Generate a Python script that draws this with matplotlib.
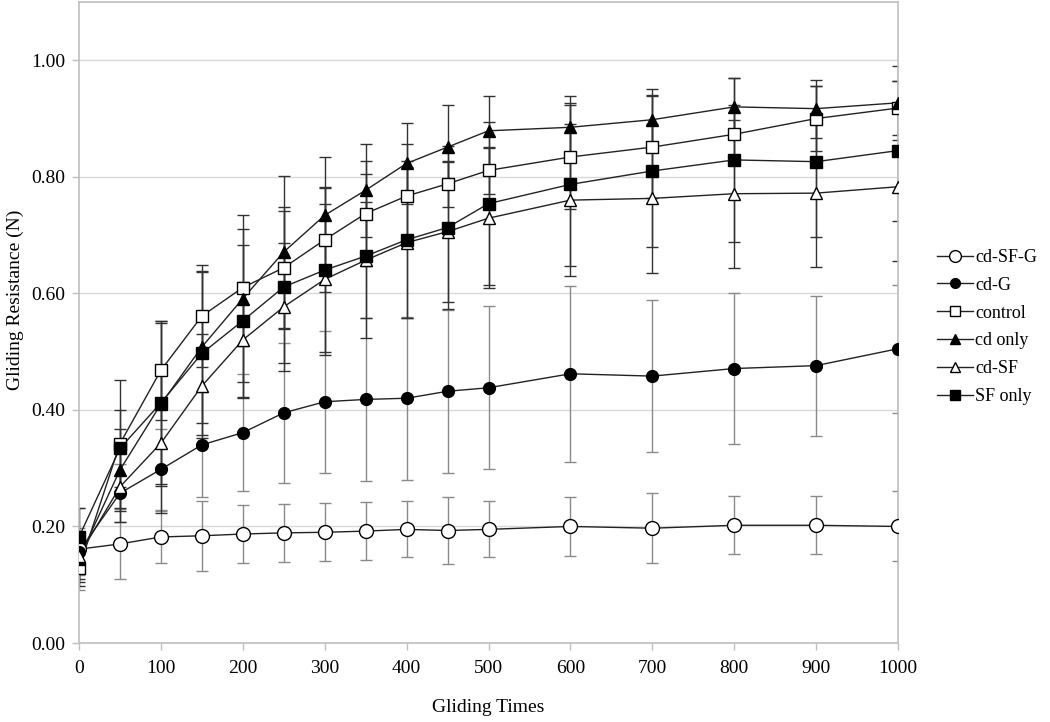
import matplotlib
matplotlib.use("Agg")
import matplotlib.pyplot as plt
from matplotlib.lines import Line2D

plt.rcParams['font.family'] = ['Liberation Serif', 'DejaVu Serif']

times = [0, 50, 100, 150, 200, 250, 300, 350, 400, 450, 500, 600, 700, 800, 900, 1000]

cd_sf_g = [0.161, 0.170, 0.182, 0.184, 0.187, 0.189, 0.190, 0.192, 0.195, 0.193, 0.195, 0.200, 0.197, 0.202, 0.202, 0.200]
cd_sf_g_err = [0.070, 0.060, 0.045, 0.060, 0.050, 0.050, 0.050, 0.050, 0.048, 0.058, 0.048, 0.050, 0.060, 0.050, 0.050, 0.060]

cd_g = [0.157, 0.257, 0.298, 0.340, 0.361, 0.395, 0.414, 0.418, 0.420, 0.432, 0.438, 0.462, 0.458, 0.471, 0.476, 0.505]
cd_g_err = [0.040, 0.050, 0.070, 0.090, 0.100, 0.120, 0.122, 0.140, 0.140, 0.140, 0.140, 0.151, 0.130, 0.130, 0.120, 0.110]

control = [0.128, 0.342, 0.468, 0.561, 0.610, 0.644, 0.692, 0.737, 0.767, 0.788, 0.811, 0.834, 0.851, 0.873, 0.900, 0.918]
control_err = [0.030, 0.110, 0.085, 0.087, 0.100, 0.105, 0.090, 0.090, 0.090, 0.040, 0.040, 0.090, 0.088, 0.050, 0.055, 0.046]

cd_only = [0.145, 0.297, 0.410, 0.508, 0.591, 0.671, 0.734, 0.777, 0.823, 0.851, 0.879, 0.885, 0.898, 0.920, 0.917, 0.927]
cd_only_err = [0.040, 0.070, 0.140, 0.130, 0.143, 0.130, 0.100, 0.080, 0.070, 0.072, 0.060, 0.054, 0.052, 0.049, 0.050, 0.063]

cd_sf = [0.150, 0.268, 0.343, 0.441, 0.520, 0.577, 0.624, 0.657, 0.687, 0.706, 0.729, 0.760, 0.763, 0.771, 0.772, 0.783]
cd_sf_err = [0.040, 0.060, 0.120, 0.090, 0.100, 0.110, 0.130, 0.100, 0.130, 0.120, 0.120, 0.130, 0.128, 0.127, 0.127, 0.128]

sf_only = [0.182, 0.334, 0.412, 0.497, 0.553, 0.611, 0.640, 0.664, 0.692, 0.713, 0.754, 0.787, 0.810, 0.829, 0.826, 0.845]
sf_only_err = [0.050, 0.066, 0.140, 0.140, 0.130, 0.130, 0.140, 0.140, 0.135, 0.140, 0.140, 0.140, 0.130, 0.140, 0.130, 0.120]

labels = ['cd-SF-G', 'cd-G', 'control', 'cd only', 'cd-SF', 'SF only']
series = [cd_sf_g, cd_g, control, cd_only, cd_sf, sf_only]
errors = [cd_sf_g_err, cd_g_err, control_err, cd_only_err, cd_sf_err, sf_only_err]
markers = ['o', 'o', 's', '^', '^', 's']
faces = ['white', 'black', 'white', 'black', 'white', 'black']
sizes = [10, 8.5, 8, 8.5, 8.5, 8]
ecolors = ['#8a8a8a', '#8a8a8a', '#333333', '#333333', '#333333', '#333333']

fig = plt.figure(figsize=(10.5, 7.22), dpi=100)
ax = fig.add_axes([79/1050, 1 - 643/722, (898-79)/1050, (643-2)/722])

for y, e, c in zip(series, errors, ecolors):
    ax.errorbar(times, y, yerr=e, fmt='none', ecolor=c, elinewidth=1.0,
                capsize=4, capthick=1.0, zorder=2)

handles = []
for y, m, f, s, lab in zip(series, markers, faces, sizes, labels):
    ax.plot(times, y, color='#222222', lw=1.0, zorder=3)
    ax.plot(times, y, linestyle='none', marker=m, markersize=s,
            markerfacecolor=f, markeredgecolor='black', markeredgewidth=1.0, zorder=4)
    handles.append(Line2D([], [], color='#222222', lw=1.0, marker=m, markersize=s-1.5,
                          markerfacecolor=f, markeredgecolor='black', markeredgewidth=1.0))

ax.set_xlim(0, 1000)
ax.set_ylim(0, 1.1)
ax.set_xticks(range(0, 1001, 100))
ax.set_yticks([0, 0.2, 0.4, 0.6, 0.8, 1.0])
ax.set_yticklabels(['0.00', '0.20', '0.40', '0.60', '0.80', '1.00'])
ax.yaxis.grid(True, color='#d9d9d9', lw=1.0)
ax.set_axisbelow(True)
for sp in ax.spines.values():
    sp.set_color('#bfbfbf')
    sp.set_linewidth(1.2)
ax.tick_params(axis='both', colors='#bfbfbf', labelcolor='black', labelsize=14,
               length=5, width=1.0, direction='out')
ax.tick_params(axis='x', pad=7)
ax.tick_params(axis='y', pad=5)

fig.text(488/1050, 1 - 708/722, 'Gliding Times', ha='center', va='center', fontsize=14)
fig.text(15/1050, 1 - 300/722, 'Gliding Resistance (N)', ha='center', va='center',
         rotation=90, fontsize=14)

fig.legend(handles, labels, loc='center left', bbox_to_anchor=(937/1050, 1 - 327/722),
           frameon=False, fontsize=13, handlelength=2.0, handletextpad=0.1,
           labelspacing=0.6, borderaxespad=0, borderpad=0)

fig.savefig('out.png', dpi=100)
